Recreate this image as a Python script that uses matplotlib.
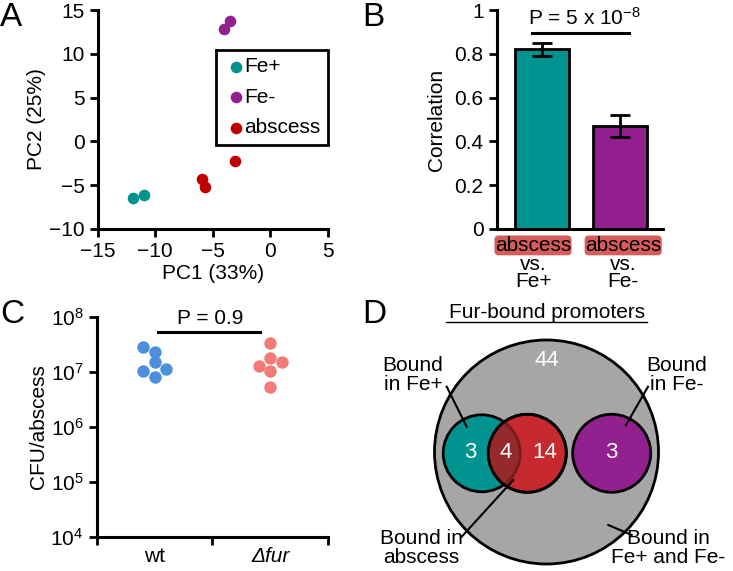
import matplotlib
matplotlib.use("Agg")
import matplotlib.pyplot as plt
import numpy as np
from matplotlib.patches import Circle

plt.rcParams["font.family"] = ["Liberation Sans", "DejaVu Sans"]
plt.rcParams["mathtext.fontset"] = "custom"
plt.rcParams["mathtext.rm"] = "Liberation Sans"
plt.rcParams["mathtext.it"] = "Liberation Sans:italic"
plt.rcParams["font.size"] = 15

# ---- data ----
# A: PCA
pca_groups = ["Fe+", "Fe-", "abscess"]
pca_x = {"Fe+": [-11.95, -10.95], "Fe-": [-4.0, -3.55], "abscess": [-5.9, -5.65, -3.05]}
pca_y = {"Fe+": [-6.5, -6.15], "Fe-": [12.85, 13.75], "abscess": [-4.3, -5.15, -2.2]}
pca_colors = {"Fe+": "#009490", "Fe-": "#92208f", "abscess": "#c00000"}

# B: correlation bars
corr_labels = ["Fe+", "Fe-"]
corr_values = [0.82, 0.47]
corr_err = [0.03, 0.05]
corr_colors = ["#009490", "#931e8f"]

# C: CFU per abscess
cfu_groups = ["wt", "\u0394fur"]
cfu_wt = [2.77e7, 2.25e7, 1.48e7, 1.04e7, 1.1e7, 7.9e6]
cfu_wt_dx = [-0.1, 0.0, 0.0, -0.1, 0.1, 0.0]
cfu_fur = [3.27e7, 1.75e7, 1.27e7, 1.52e7, 1.03e7, 5.2e6]
cfu_fur_dx = [0.0, 0.0, -0.1, 0.1, 0.0, 0.0]

# D: venn counts
venn_total = 44
venn_fe_plus_only = 3
venn_overlap = 4
venn_abscess_only = 14
venn_fe_minus = 3

fig = plt.figure(figsize=(7.33, 5.71), dpi=100)
W, H = 733.0, 571.0


def add_ax(x0, y0, x1, y1):
    return fig.add_axes([x0 / W, 1 - y1 / H, (x1 - x0) / W, (y1 - y0) / H])


def style(ax):
    for s in ["top", "right"]:
        ax.spines[s].set_visible(False)
    for s in ["left", "bottom"]:
        ax.spines[s].set_linewidth(2.2)
    ax.tick_params(width=2, length=6, labelsize=15)


# ---- A ----
axA = add_ax(97.7, 10, 328, 229)
style(axA)
for g in pca_groups:
    axA.scatter(pca_x[g], pca_y[g], s=70, color=pca_colors[g], label=g, zorder=3, linewidths=0)
axA.set_xlim(-15, 5)
axA.set_ylim(-10, 15)
axA.set_xticks([-15, -10, -5, 0, 5])
axA.set_yticks([-10, -5, 0, 5, 10, 15])
axA.set_xlabel("PC1 (33%)", fontsize=15, labelpad=2)
axA.set_ylabel("PC2 (25%)", fontsize=15, labelpad=2)
leg = axA.legend(loc="upper right", bbox_to_anchor=(1.0, 0.817), borderaxespad=0,
                 fancybox=False, framealpha=1, edgecolor="black", fontsize=15,
                 handletextpad=-0.2, labelspacing=0.55, borderpad=0.35, handlelength=1.2,
                 scatterpoints=1)
leg.get_frame().set_linewidth(2)

# ---- B ----
axB = add_ax(496.7, 10, 663, 229)
style(axB)
xb = np.arange(len(corr_values))
axB.bar(xb, corr_values, width=0.69, color=corr_colors, edgecolor="black", linewidth=2, zorder=2)
axB.errorbar(xb, corr_values, yerr=corr_err, fmt="none", ecolor="black", elinewidth=2,
             capsize=7.5, capthick=2, zorder=3)
axB.set_xlim(-0.58, 1.55)
axB.set_ylim(0, 1)
axB.set_yticks([0, 0.2, 0.4, 0.6, 0.8, 1])
axB.set_yticklabels(["0", "0.2", "0.4", "0.6", "0.8", "1"])
axB.set_xticks([])
axB.set_ylabel("Correlation", fontsize=15, labelpad=6)
axB.plot([-0.13, 1.115], [0.894, 0.894], color="black", lw=2.2, clip_on=False)
axB.text(0.54, 0.915, "P = 5 x 10$^{-8}$", ha="center", va="bottom", fontsize=15)
tr = axB.get_xaxis_transform()
label_x = [-0.115, 1.04]
for i, lab in enumerate(corr_labels):
    axB.text(label_x[i], -0.100, "abscess", transform=tr, ha="center", va="baseline", fontsize=15,
             bbox=dict(boxstyle="round,pad=0.02,rounding_size=0.2", fc="#d65c5c", ec="none"))
    axB.text(label_x[i], -0.263, "vs.\n" + lab, transform=tr, ha="center", va="baseline",
             fontsize=15, linespacing=0.85, multialignment="center")

# ---- C ----
axC = add_ax(96.7, 316.7, 328, 536.7)
style(axC)
axC.set_yscale("log")
axC.scatter(0.5 + np.array(cfu_wt_dx), cfu_wt, s=80, color="#4d8fdb", linewidths=0, zorder=3)
axC.scatter(1.5 + np.array(cfu_fur_dx), cfu_fur, s=80, color="#f47a78", linewidths=0, zorder=3)
axC.set_xlim(0, 2)
axC.set_ylim(1e4, 1e8)
axC.set_yticks([1e4, 1e5, 1e6, 1e7, 1e8])
axC.minorticks_off()
axC.set_xticks([0, 1, 2])
axC.set_xticklabels([])
axC.set_xticks([0.5, 1.5], minor=True)
axC.set_xticklabels(cfu_groups, minor=True)
axC.tick_params(axis="x", which="minor", length=0, pad=7.5, labelsize=15)
axC.get_xticklabels(minor=True)[1].set_style("italic")
axC.set_ylabel("CFU/abscess", fontsize=15, labelpad=2)
axC.plot([0.53, 1.41], [5.3e7, 5.3e7], color="black", lw=2.2)
axC.text(0.98, 6.3e7, "P = 0.9", ha="center", va="bottom", fontsize=15)

# ---- D ----
axD = add_ax(355, 290, 733, 571)
axD.set_xlim(355, 733)
axD.set_ylim(571, 290)
axD.axis("off")
big = Circle((546.5, 452), 112, fc="#a6a6a6", ec="black", lw=2, zorder=1)
teal = Circle((481.7, 453.3), 38.5, fc="#009490", ec="black", lw=2, zorder=2)
red = Circle((527.3, 453.3), 39, fc="#c62a2e", ec="black", lw=2, zorder=3)
purple = Circle((611.7, 453.3), 39, fc="#92208f", ec="black", lw=2, zorder=2)
for p in [big, teal, red, purple]:
    axD.add_patch(p)
over = Circle((527.3, 453.3), 39, fc="#952a2d", ec="none", zorder=4)
axD.add_patch(over)
over.set_clip_path(teal)
teal_edge = Circle((481.7, 453.3), 38.5, fc="none", ec="#7a1a1c", lw=2, zorder=5)
axD.add_patch(teal_edge)
teal_edge.set_clip_path(red)
red_edge = Circle((527.3, 453.3), 39, fc="none", ec="black", lw=2, zorder=6)
axD.add_patch(red_edge)

axD.text(546.7, 360, str(venn_total), color="white", ha="center", va="center", fontsize=16)
axD.text(470, 453, str(venn_fe_plus_only), color="white", ha="center", va="center", fontsize=16, zorder=7)
axD.text(506, 453, str(venn_overlap), color="white", ha="center", va="center", fontsize=16, zorder=7)
axD.text(545, 453, str(venn_abscess_only), color="white", ha="center", va="center", fontsize=16, zorder=7)
axD.text(611.7, 453, str(venn_fe_minus), color="white", ha="center", va="center", fontsize=16, zorder=7)
axD.text(546.7, 313, "Fur-bound promoters", ha="center", va="center", fontsize=15)
axD.plot([446, 647], [322, 322], color="black", lw=1)

axD.text(413, 375, "Bound\nin Fe+", ha="center", va="center", fontsize=15, linespacing=1.0)
axD.plot([446.7, 466.7], [386.7, 426.7], color="black", lw=1.5, zorder=8)
axD.text(676.7, 375, "Bound\nin Fe-", ha="center", va="center", fontsize=15, linespacing=1.0)
axD.plot([648, 626], [386.7, 425], color="black", lw=1.5, zorder=8)
axD.text(421.7, 548, "Bound in\nabscess", ha="center", va="center", fontsize=15, linespacing=1.0)
axD.plot([461.7, 513.3], [536.7, 480], color="black", lw=1.5, zorder=8)
axD.text(668, 548, "Bound in\nFe+ and Fe-", ha="center", va="center", fontsize=15, linespacing=1.0)
axD.plot([631.7, 608.3], [535, 525], color="black", lw=1.5, zorder=8)

# panel letters
fig.text(0.0, 1 - 2 / H, "A", fontsize=24, va="top", ha="left")
fig.text(362 / W, 1 - 2 / H, "B", fontsize=24, va="top", ha="left")
fig.text(0.0, 1 - 299 / H, "C", fontsize=24, va="top", ha="left")
fig.text(362 / W, 1 - 299 / H, "D", fontsize=24, va="top", ha="left")

fig.savefig("out.png", dpi=100)
